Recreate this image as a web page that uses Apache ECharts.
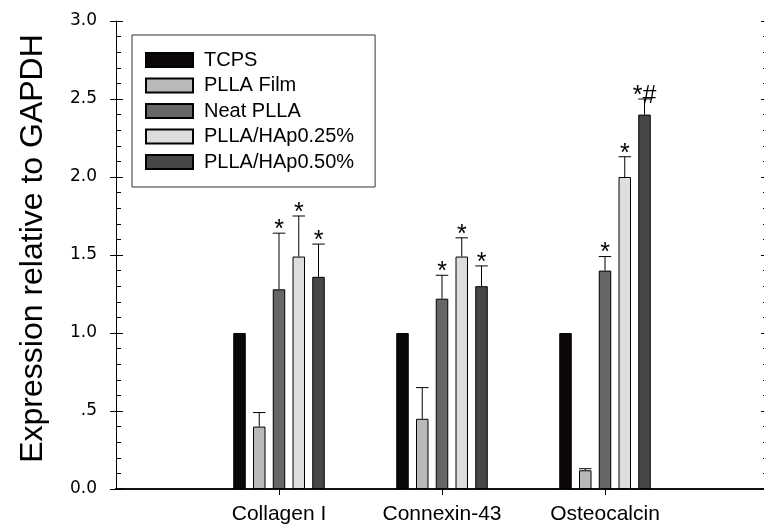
<!DOCTYPE html>
<html>
<head>
<meta charset="utf-8">
<script src="https://cdn.jsdelivr.net/npm/echarts@6/dist/echarts.min.js"></script>
<style>html,body{margin:0;padding:0;background:#fff;}#c{width:764px;height:531px;}</style>
</head>
<body>
<div id="c"></div>
<script>
// ---- data ----
const categories = ['Collagen I', 'Connexin-43', 'Osteocalcin'];
const seriesNames = ['TCPS', 'PLLA Film', 'Neat PLLA', 'PLLA/HAp0.25%', 'PLLA/HAp0.50%'];
const tcps   = [1.00, 1.00, 1.00];
const film   = [0.40, 0.45, 0.12];
const neat   = [1.28, 1.22, 1.40];
const hap025 = [1.49, 1.49, 2.00];
const hap050 = [1.36, 1.30, 2.40];
const tcpsErr   = [0, 0, 0];
const filmErr   = [0.09, 0.20, 0.01];
const neatErr   = [0.36, 0.15, 0.09];
const hap025Err = [0.26, 0.12, 0.13];
const hap050Err = [0.21, 0.13, 0.10];
const tcpsMark   = ['', '', ''];
const filmMark   = ['', '', ''];
const neatMark   = ['*', '*', '*'];
const hap025Mark = ['*', '*', '*'];
const hap050Mark = ['*', '*', '*#'];
const yTickValues = [0, 0.5, 1.0, 1.5, 2.0, 2.5, 3.0];
const yTickLabels = ['0.0', '.5', '1.0', '1.5', '2.0', '2.5', '3.0'];
const yName = 'Expression relative to GAPDH';

// ---- styles ----
const colors = ['#0b0707', '#bab9b9', '#676565', '#dedcdc', '#484646'];
const BW = 12.5;          // bar width px
const GAP = 0.58;         // bar gap ratio
const values = [tcps, film, neat, hap025, hap050];
const errs = [tcpsErr, filmErr, neatErr, hap025Err, hap050Err];
const marks = [tcpsMark, filmMark, neatMark, hap025Mark, hap050Mark];

const slots = [''].concat(categories, ['']);  // padded category slots
const pad = arr => [null].concat(arr, [null]);

const errData = [];
const errMarks = [];
values.forEach((vals, s) => {
  vals.forEach((v, c) => {
    if (errs[s][c] > 0 || marks[s][c]) {
      errData.push([c + 1, s, v, errs[s][c]]);
      errMarks.push(marks[s][c]);
    }
  });
});

const chart = echarts.init(document.getElementById('c'));
const font = 'Liberation Sans';

const barSeries = seriesNames.map((name, i) => ({
  name, type: 'bar', xAxisIndex: 0, yAxisIndex: 0,
  barWidth: BW, barGap: (GAP * 100) + '%',
  data: pad(values[i]),
  itemStyle: { color: colors[i], borderColor: '#000', borderWidth: 1, borderRadius: 0 },
  silent: true
}));

const errSeries = {
  type: 'custom', xAxisIndex: 0, yAxisIndex: 0, silent: true, z: 5,
  data: errData,
  renderItem: function (params, api) {
    const c = api.value(0), s = api.value(1), v = api.value(2), e = api.value(3);
    const base = api.coord([c, v]);
    const top = api.coord([c, v + e]);
    const x = base[0] + (s - 2) * BW * (1 + GAP);
    const children = [];
    if (e > 0) {
      children.push({ type: 'line', shape: { x1: x, y1: base[1], x2: x, y2: top[1] }, style: { stroke: '#000', lineWidth: 1 } });
      children.push({ type: 'line', shape: { x1: x - BW / 2, y1: top[1], x2: x + BW / 2, y2: top[1] }, style: { stroke: '#000', lineWidth: 1 } });
    }
    const m = errMarks[params.dataIndex];
    if (m) {
      children.push({ type: 'text', x: x, y: top[1] - 3, style: { text: m, fill: '#000', font: '25px "Liberation Sans"', align: 'center', verticalAlign: 'middle' } });
    }
    return { type: 'group', children };
  }
};

chart.setOption({
  animation: false,
  backgroundColor: '#fff',
  grid: { left: 116, top: 21, right: -4, bottom: 42, containLabel: false, outerBoundsMode: 'none' },
  legend: {
    orient: 'vertical', left: 132, top: 35,
    data: seriesNames,
    icon: 'rect',
    itemWidth: 47, itemHeight: 14, itemGap: 5.5,
    padding: [15, 21, 15, 13],
    borderColor: '#333', borderWidth: 1,
    selectedMode: false,
    textStyle: { fontFamily: font, fontSize: 20, color: '#000', padding: [0, 0, 0, 6] }
  },
  xAxis: [
    {
      type: 'category', data: slots, boundaryGap: false, position: 'bottom',
      axisLine: { lineStyle: { color: '#111', width: 2 } },
      axisTick: { show: true, inside: false, length: 6, lineStyle: { color: '#000', width: 1 },
        interval: (i) => i > 0 && i < slots.length - 1, alignWithLabel: true },
      axisLabel: { interval: 0, margin: 15, fontFamily: font, fontSize: 21, color: '#000' },
      splitLine: { show: false }
    },
    {
      type: 'category', data: slots, boundaryGap: false, position: 'top',
      axisLine: { lineStyle: { color: '#111', width: 2 } },
      axisTick: { show: false }, axisLabel: { show: false }, splitLine: { show: false }
    }
  ],
  yAxis: [
    {
      type: 'value', position: 'left', min: 0, max: 3, interval: 0.5,
      name: yName, nameLocation: 'middle', nameGap: 67, nameRotate: 90,
      nameTextStyle: { fontFamily: font, fontSize: 32, color: '#000', padding: [0, 0, 0, 13] },
      axisLine: { show: true, lineStyle: { color: '#000', width: 1 } },
      axisTick: { show: true, inside: true, length: 7, lineStyle: { color: '#000' } },
      minorTick: { show: true, splitNumber: 5, length: 5, lineStyle: { color: '#000' } },
      axisLabel: {
        margin: 19, fontFamily: 'DejaVu Sans', fontSize: 17, color: '#000',
        formatter: v => yTickLabels[yTickValues.indexOf(v)]
      },
      splitLine: { show: false }
    },
    {
      type: 'value', position: 'right', min: 0, max: 3, interval: 0.5,
      axisLine: { show: false },
      axisTick: { show: true, inside: true, length: 7, lineStyle: { color: '#000' } },
      minorTick: { show: true, splitNumber: 5, length: 5, lineStyle: { color: '#000' } },
      axisLabel: { show: false }, splitLine: { show: false }
    },
    {
      type: 'value', position: 'left', min: 0, max: 3, interval: 0.5,
      axisLine: { show: false },
      axisTick: { show: true, inside: false, length: 6, lineStyle: { color: '#000' } },
      axisLabel: { show: false }, splitLine: { show: false }
    }
  ],
  series: barSeries.concat([errSeries])
});
</script>
</body>
</html>
